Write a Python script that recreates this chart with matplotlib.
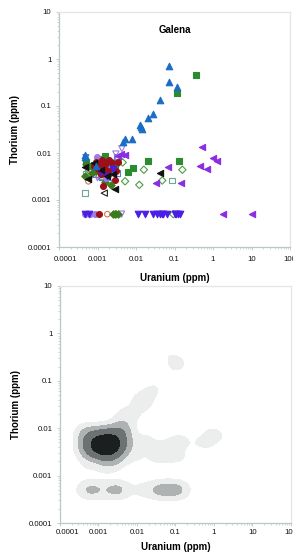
import numpy as np
import matplotlib
matplotlib.use("Agg")
import matplotlib.pyplot as plt
from matplotlib.ticker import LogLocator, FixedFormatter, FixedLocator, NullFormatter
import matplotlib.transforms as mtrans

plt.rcParams['font.family'] = ['Liberation Sans', 'DejaVu Sans']

# ---------------- data (uranium ppm, thorium ppm) ----------------
blue_tri_u = [0.073, 0.071, 0.114, 0.042, 0.028, 0.021, 0.0126, 0.0134, 0.0081, 0.0047, 0.0052, 0.014, 0.00048, 0.00048, 0.0009]
blue_tri_th = [0.72, 0.33, 0.25, 0.134, 0.068, 0.055, 0.040, 0.035, 0.0195, 0.0174, 0.0196, 0.032, 0.0091, 0.0082, 0.0052]

green_sq_u = [0.36, 0.117, 0.133, 0.020, 0.0085, 0.0063, 0.0016, 0.0014, 0.0005, 0.0008, 0.0011, 0.0022, 0.0019, 0.0006, 0.0028]
green_sq_th = [0.45, 0.19, 0.0066, 0.0066, 0.0047, 0.0039, 0.0085, 0.0075, 0.0065, 0.0055, 0.0045, 0.006, 0.0038, 0.0052, 0.0050]

teal_sq_open_u = [0.086, 0.00048, 0.0033, 0.0009, 0.0012, 0.0005]
teal_sq_open_th = [0.0026, 0.0014, 0.0079, 0.0045, 0.0032, 0.0036]

green_dia_open_u = [0.016, 0.16, 0.048, 0.0122, 0.0052, 0.093, 0.003, 0.0006, 0.0013, 0.0021, 0.0045]
green_dia_open_th = [0.0044, 0.0044, 0.0026, 0.0021, 0.0025, 0.0005, 0.0005, 0.0042, 0.0035, 0.0045, 0.0063]

green_dia_u = [0.0026, 0.0028, 0.0035, 0.00046, 0.0023, 0.0009, 0.0012, 0.0016, 0.0007, 0.0019, 0.0014, 0.0005]
green_dia_th = [0.0005, 0.0005, 0.0005, 0.0032, 0.0021, 0.0042, 0.0055, 0.0024, 0.0038, 0.0034, 0.0068, 0.0058]

purple_left_u = [0.51, 0.98, 1.25, 0.46, 0.68, 0.069, 0.033, 0.145, 1.78, 10.0, 0.0052, 0.0040, 0.0035]
purple_left_th = [0.0135, 0.0079, 0.0066, 0.0053, 0.0045, 0.0051, 0.0023, 0.0023, 0.0005, 0.0005, 0.0091, 0.0095, 0.0088]

black_left_u = [0.041, 0.0028, 0.00058, 0.00047, 0.0012, 0.0018, 0.0008, 0.0025]
black_left_th = [0.0037, 0.0017, 0.0028, 0.0050, 0.0043, 0.0032, 0.0060, 0.0036]

black_left_open_u = [0.0015]
black_left_open_th = [0.0014]

indigo_down_u = [0.00048, 0.0006, 0.0115, 0.017, 0.028, 0.035, 0.042, 0.046, 0.051, 0.062, 0.10, 0.11, 0.125, 0.137, 0.0012, 0.0018, 0.0025]
indigo_down_th = [0.0005, 0.0005, 0.0005, 0.0005, 0.0005, 0.0005, 0.0005, 0.0005, 0.0005, 0.0005, 0.0005, 0.0005, 0.0005, 0.0005, 0.0040, 0.0033, 0.0046]

lav_down_open_u = [0.0042, 0.0043, 0.0030, 0.0016, 0.0022, 0.0010, 0.0027]
lav_down_open_th = [0.0005, 0.0123, 0.0095, 0.0050, 0.0038, 0.0030, 0.0062]

lav_circ_u = [0.00048, 0.00087, 0.00065, 0.00095, 0.0013, 0.0020, 0.0017, 0.0024]
lav_circ_th = [0.0005, 0.0005, 0.0005, 0.0082, 0.0046, 0.0040, 0.0030, 0.0052]

red_circ_u = [0.0011, 0.0014, 0.0009, 0.0011, 0.0013, 0.0015, 0.0017, 0.0020, 0.0010, 0.0024, 0.0028, 0.0035, 0.0008, 0.0012, 0.0019, 0.0026, 0.0030]
red_circ_th = [0.0005, 0.0020, 0.0065, 0.0058, 0.0072, 0.0050, 0.0062, 0.0070, 0.0045, 0.0060, 0.0027, 0.0064, 0.0052, 0.0035, 0.0042, 0.0048, 0.0042]

salmon_circ_open_u = [0.0018, 0.00058, 0.0007, 0.0011, 0.0025]
salmon_circ_open_th = [0.0005, 0.0025, 0.0040, 0.0033, 0.0055]

blue_sq_open_u = [0.0031, 0.0024, 0.0017, 0.0013, 0.0021, 0.0027, 0.0015, 0.0009, 0.0033]
blue_sq_open_th = [0.0082, 0.0030, 0.0040, 0.0030, 0.0052, 0.0045, 0.0062, 0.0036, 0.0038]

blue_down_open_u = [0.0005, 0.0018, 0.0022, 0.0029, 0.0011, 0.0034, 0.0014]
blue_down_open_th = [0.0080, 0.0034, 0.0044, 0.0036, 0.0039, 0.0055, 0.0047]

title_text = "Galena"
x_label = "Uranium (ppm)"
y_label = "Thorium (ppm)"
x_ticks = [0.0001, 0.001, 0.01, 0.1, 1, 10, 100]
x_tick_labels = ["0.0001", "0.001", "0.01", "0.1", "1", "10", "100"]
y_ticks = [0.0001, 0.001, 0.01, 0.1, 1, 10]
y_tick_labels = ["0.0001", "0.001", "0.01", "0.1", "1", "10"]

series = [
    (green_dia_open_u, green_dia_open_th, 'D', 'none', '#4f9e45', 14),
    (teal_sq_open_u, teal_sq_open_th, 's', 'none', '#6aa898', 16),
    (salmon_circ_open_u, salmon_circ_open_th, 'o', 'none', '#cc7a58', 16),
    (blue_sq_open_u, blue_sq_open_th, 's', 'none', '#5a78e0', 16),
    (blue_down_open_u, blue_down_open_th, 'v', 'none', '#4a66e0', 18),
    (lav_down_open_u, lav_down_open_th, 'v', 'none', '#9a78e2', 20),
    (black_left_open_u, black_left_open_th, '<', 'none', '#222222', 20),
    (green_sq_u, green_sq_th, 's', '#2a8c30', '#2a8c30', 16),
    (green_dia_u, green_dia_th, 'D', '#3e7a1c', '#3e7a1c', 14),
    (lav_circ_u, lav_circ_th, 'o', '#a07ae6', '#a07ae6', 18),
    (red_circ_u, red_circ_th, 'o', '#9c1018', '#9c1018', 18),
    (indigo_down_u, indigo_down_th, 'v', '#4a1ee6', '#4a1ee6', 22),
    (purple_left_u, purple_left_th, '<', '#8a2ee2', '#8a2ee2', 20),
    (black_left_u, black_left_th, '<', '#111111', '#111111', 20),
    (blue_tri_u, blue_tri_th, '^', '#1a6cc4', '#1a6cc4', 22),
]

fig = plt.figure(figsize=(2.93, 5.60), dpi=100)
ax1 = fig.add_axes([59/293, 1-247/560, 231/293, 235/560])
ax2 = fig.add_axes([60/293, 1-523/560, 231/293, 237/560])

def style(ax, xpad, lpad):
    ax.set_xscale('log')
    ax.set_yscale('log')
    ax.set_xlim(1e-4, 100)
    ax.set_ylim(1e-4, 10)
    for s in ['left', 'bottom']:
        ax.spines[s].set_color('#b9c9c5')
        ax.spines[s].set_linewidth(0.9)
    for s in ['top', 'right']:
        ax.spines[s].set_color('#e2e6e6')
        ax.spines[s].set_linewidth(0.9)
    ax.xaxis.set_major_locator(FixedLocator(x_ticks))
    ax.xaxis.set_major_formatter(FixedFormatter(x_tick_labels))
    ax.yaxis.set_major_locator(FixedLocator(y_ticks))
    ax.yaxis.set_major_formatter(FixedFormatter(y_tick_labels))
    ax.xaxis.set_minor_locator(LogLocator(base=10, subs=np.arange(2, 10), numticks=20))
    ax.yaxis.set_minor_locator(LogLocator(base=10, subs=np.arange(2, 10), numticks=20))
    ax.xaxis.set_minor_formatter(NullFormatter())
    ax.yaxis.set_minor_formatter(NullFormatter())
    ax.tick_params(which='major', length=2.5, width=0.6, color='#b9c9c5', labelsize=5.6, pad=3, labelcolor='#111111')
    ax.tick_params(which='minor', length=1.5, width=0.5, color='#b9c9c5')
    ax.tick_params(axis='x', which='major', pad=xpad)
    ax.set_xlabel(x_label, fontsize=7, fontweight='bold', labelpad=lpad)
    ax.set_ylabel(y_label, fontsize=7, fontweight='bold', labelpad=6)
    lbl = ax.get_xticklabels()[0]
    lbl.set_transform(lbl.get_transform() + mtrans.ScaledTranslation(7/100, 0, fig.dpi_scale_trans))

style(ax1, 4, 7)
style(ax2, 1.5, 5)

for u, th, m, fc, ec, s in series:
    ax1.scatter(u, th, marker=m, s=s, facecolors=fc, edgecolors=ec, linewidths=0.8, zorder=3)

ax1.text(0.5, 0.925, title_text, transform=ax1.transAxes, ha='center', va='center',
         fontsize=7, fontweight='bold')

# ---------------- density contour ----------------
all_u = np.concatenate([np.asarray(s[0], float) for s in series])
all_th = np.concatenate([np.asarray(s[1], float) for s in series])
lu = np.log10(all_u)
lt = np.log10(all_th)
gx = np.linspace(-4, 2, 300)
gy = np.linspace(-4, 1, 300)
GX, GY = np.meshgrid(gx, gy)
sx, sy = 0.21, 0.135
Z = np.zeros_like(GX)
for a, b in zip(lu, lt):
    Z += np.exp(-0.5 * (((GX - a) / sx) ** 2 + ((GY - b) / sy) ** 2))
zmax = Z.max()
levels = np.array([0.045, 0.13, 0.27, 0.58, 1.01]) * zmax
colors = ['#eceeee', '#aeb2b2', '#6c7171', '#1c1f1f']
ax2.contourf(10 ** GX, 10 ** GY, Z, levels=levels, colors=colors, zorder=1)

fig.savefig("out.png", dpi=100)
